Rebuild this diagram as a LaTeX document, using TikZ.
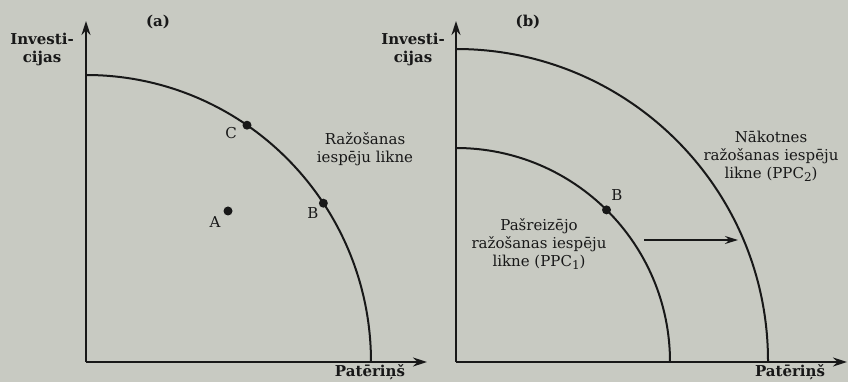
\documentclass[tikz,border=0pt]{standalone}
\usepackage{fontspec}
\setmainfont{DejaVu Serif}
\usetikzlibrary{arrows.meta,calc}
\definecolor{paper}{RGB}{200,202,194}
\definecolor{ink}{RGB}{24,24,24}
\newcommand{\lowsub}[1]{\raisebox{-3pt}{\fontsize{12}{12}\selectfont #1}}
\begin{document}
\begin{tikzpicture}[x=1pt,y=1pt,
  every node/.style={text=ink, font=\fontsize{15}{18}\selectfont},
  axis/.style={draw=ink, line width=2pt, -{Stealth[length=14pt,width=9pt]}},
  curve/.style={draw=ink, line width=2pt},
  shiftarrow/.style={draw=ink, line width=1.6pt, -{Stealth[length=13pt,width=8pt]}},
  lbl/.style={align=center, inner sep=0pt},
  bold/.style={align=center, inner sep=0pt, font=\fontsize{15}{18}\selectfont\bfseries},
  dot/.style={circle, fill=ink, inner sep=0pt, minimum size=9pt}]
\fill[paper] (0,0) rectangle (848,382);
\useasboundingbox (0,0) rectangle (848,382);
% ---- panel (a)
\coordinate (Oa) at (86,20);
\coordinate (Ya) at (86,361);
\coordinate (Xa) at (427,20);
\draw[axis] (Oa) -- (Ya);
\draw[axis] (Oa) -- (Xa);
\draw[curve] (86,307) arc[start angle=90, end angle=0, x radius=285, y radius=287];
\node[dot] (C) at ($(Oa)+(55.6:285 and 287)$) {};
\node[dot] (Ba) at ($(Oa)+(33.6:285 and 287)$) {};
\node[dot] (A) at (228,171) {};
\node[bold] (ta) at (158,360) {(a)};
\node[bold] (ia) at (42,333) {Investi-\\cijas};
\node[bold] (pa) at (370,10) {Patēriņš};
\node[lbl] (lC) at (231,249) {C};
\node[lbl] (lA) at (215,160) {A};
\node[lbl] (lBa) at (313,169) {B};
\node[lbl] (ppc) at (365,233) {Ražošanas\\iespēju likne};
% ---- panel (b)
\coordinate (Ob) at (456,20);
\coordinate (Yb) at (456,361);
\coordinate (Xb) at (847,20);
\draw[axis] (Ob) -- (Yb);
\draw[axis] (Ob) -- (Xb);
\draw[curve] (456,333) arc[start angle=90, end angle=0, radius=312];
\draw[curve] (456,234) arc[start angle=90, end angle=0, radius=214];
\node[dot] (Bb) at ($(Ob)+(45.3:214)$) {};
\node[bold] (tb) at (528,360) {(b)};
\node[bold] (ib) at (413,333) {Investi-\\cijas};
\node[bold] (pb) at (790,10) {Patēriņš};
\node[lbl] (lBb) at (617,187) {B};
\node[lbl] (ppc1) at (539,138) {Pašreizējo\\ražošanas iespēju\\likne (PPC\lowsub{1})};
\node[lbl] (ppc2) at (771,226) {Nākotnes\\ražošanas iespēju\\likne (PPC\lowsub{2})};
\coordinate (s1) at (644,142);
\coordinate (s2) at (738,142);
\draw[shiftarrow] (s1) -- (s2);
\end{tikzpicture}
\end{document}
